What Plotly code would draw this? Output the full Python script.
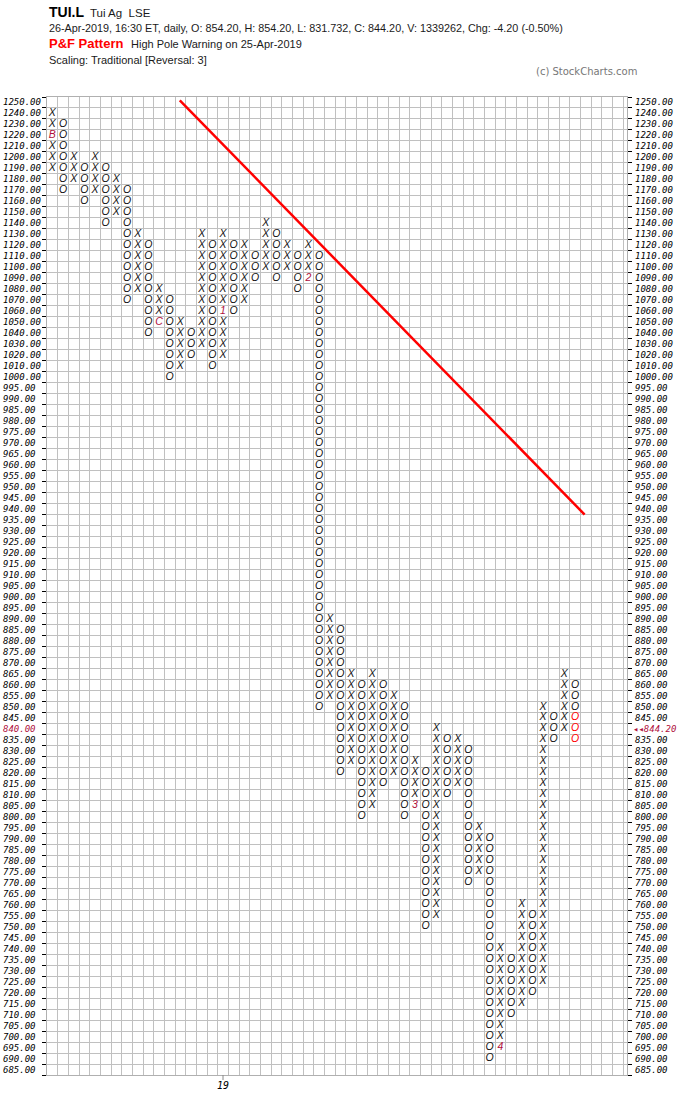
import plotly.graph_objects as go

# ---------------- data ----------------
price_levels = [1250, 1240, 1230, 1220, 1210, 1200, 1190, 1180, 1170, 1160, 1150, 1140, 1130,
                1120, 1110, 1100, 1090, 1080, 1070, 1060, 1050, 1040, 1030, 1020, 1010, 1000,
                995, 990, 985, 980, 975, 970, 965, 960, 955, 950, 945, 940, 935, 930, 925, 920,
                915, 910, 905, 900, 895, 890, 885, 880, 875, 870, 865, 860, 855, 850, 845, 840,
                835, 830, 825, 820, 815, 810, 805, 800, 795, 790, 785, 780, 775, 770, 765, 760,
                755, 750, 745, 740, 735, 730, 725, 720, 715, 710, 705, 700, 695, 690, 685]

col_types = ['X', 'O', 'X', 'O', 'X', 'O', 'X', 'O', 'X', 'O',
             'X', 'O', 'X', 'O', 'X', 'O', 'X', 'O', 'X', 'O',
             'X', 'O', 'X', 'O', 'X', 'O', 'X', 'O', 'X', 'O',
             'X', 'O', 'X', 'O', 'X', 'O', 'X', 'O', 'X', 'O',
             'X', 'O', 'X', 'O', 'X', 'O', 'X', 'O', 'X', 'O']
col_high = [1240, 1230, 1200, 1190, 1200, 1190, 1180, 1170, 1130, 1120,
            1080, 1070, 1050, 1040, 1130, 1120, 1130, 1120, 1120, 1110,
            1140, 1130, 1120, 1110, 1120, 1110, 890, 885, 865, 860,
            865, 860, 855, 850, 825, 820, 840, 835, 835, 830,
            795, 790, 740, 735, 760, 755, 850, 845, 865, 860]
col_low = [1190, 1170, 1180, 1160, 1170, 1140, 1150, 1070, 1080, 1040,
           1050, 1000, 1010, 1020, 1030, 1010, 1020, 1060, 1070, 1090,
           1100, 1090, 1100, 1080, 1090, 850, 855, 820, 825, 800,
           805, 815, 820, 800, 805, 750, 755, 810, 815, 770,
           775, 690, 695, 710, 715, 720, 725, 835, 840, 835]

marker_cols = [0, 10, 16, 24, 34, 42]
marker_prices = [1220, 1050, 1060, 1090, 805, 695]
marker_texts = ['B', 'C', '1', '2', '3', '4']

red_col = 49
red_prices = [845, 840, 835]

last_price_level = 840
last_price_label = '\u25c2\u25c2844.20'

year_label_col = 16
year_label = '19'

trend_x = [11.95, 49.9]
trend_y = [88.2, 50.5]

title_symbol = 'TUI.L'
title_name = 'Tui Ag  LSE'
title_line2 = '26-Apr-2019, 16:30 ET, daily, O: 854.20, H: 854.20, L: 831.732, C: 844.20, V: 1339262, Chg: -4.20 (-0.50%)'
pattern_label = 'P&F Pattern'
pattern_text = 'High Pole Warning on 25-Apr-2019'
scaling_text = 'Scaling: Traditional [Reversal: 3]'
copyright_text = '(c) StockCharts.com'

# ---------------- build ----------------
n_rows = len(price_levels)
row_of = {p: n_rows - 1 - i for i, p in enumerate(price_levels)}
mark_map = {(c, p): t for c, p, t in zip(marker_cols, marker_prices, marker_texts)}

groups = {'X': ([], []), 'O': ([], []), 'R': ([], []), 'M': ([], [], [])}
for c, (t, hi, lo) in enumerate(zip(col_types, col_high, col_low)):
    for p in price_levels:
        if lo <= p <= hi:
            if (c, p) in mark_map:
                groups['M'][0].append(c)
                groups['M'][1].append(row_of[p])
                groups['M'][2].append(mark_map[(c, p)])
            elif c == red_col and p in red_prices:
                groups['R'][0].append(c)
                groups['R'][1].append(row_of[p])
            else:
                groups[t][0].append(c)
                groups[t][1].append(row_of[p])

glyph_font = dict(family='Liberation Sans, Arial, sans-serif', size=10.5, style='italic')
fig = go.Figure()
fig.add_trace(go.Scatter(x=groups['X'][0], y=groups['X'][1], mode='text', text=['X'] * len(groups['X'][0]),
                         textfont=dict(glyph_font, color='#111111'), hoverinfo='skip', showlegend=False))
fig.add_trace(go.Scatter(x=groups['O'][0], y=groups['O'][1], mode='text', text=['O'] * len(groups['O'][0]),
                         textfont=dict(glyph_font, color='#111111'), hoverinfo='skip', showlegend=False))
fig.add_trace(go.Scatter(x=groups['R'][0], y=groups['R'][1], mode='text', text=['O'] * len(groups['R'][0]),
                         textfont=dict(glyph_font, color='#ff0000'), hoverinfo='skip', showlegend=False))
fig.add_trace(go.Scatter(x=groups['M'][0], y=groups['M'][1], mode='text', text=groups['M'][2],
                         textfont=dict(glyph_font, color='#b0103c'), hoverinfo='skip', showlegend=False))
fig.add_trace(go.Scatter(x=trend_x, y=trend_y, mode='lines', line=dict(color='#ff0000', width=2.5),
                         hoverinfo='skip', showlegend=False))

# axis labels (both sides)
label_font = dict(family='DejaVu Sans Mono, monospace', size=9, style='italic', color='#000000')
annotations = []
for p in price_levels:
    r = row_of[p]
    txt = f'{p:.2f}'
    lcol = '#b0103c' if p == last_price_level else '#000000'
    annotations.append(dict(x=0, xref='paper', y=r, yref='y', text=txt, showarrow=False,
                            xanchor='left', yanchor='middle', xshift=-46,
                            font=dict(label_font, color=lcol)))
    rtxt = last_price_label if p == last_price_level else txt
    annotations.append(dict(x=1, xref='paper', y=r, yref='y', text=rtxt, showarrow=False,
                            xanchor='left', yanchor='middle', xshift=4 if p == last_price_level else 6,
                            font=dict(label_font, color=lcol)))

annotations.append(dict(x=year_label_col, xref='x', y=0, yref='paper', text=year_label, showarrow=False,
                        xanchor='center', yanchor='top', yshift=-3,
                        font=dict(label_font, size=10)))

W, H = 700, 1108
ml, mr, mt, mb = 47, 73, 97, 33
pw, ph = W - ml - mr, H - mt - mb


def px(xp):
    return (xp - ml) / pw


def py(yp):
    return (H - mb - yp) / ph


hdr = dict(family='Liberation Sans, Arial, sans-serif', color='#1a1a1a')
annotations += [
    dict(x=px(47), y=py(12), xref='paper', yref='paper', xanchor='left', yanchor='middle', showarrow=False,
         text=f'<b>{title_symbol}</b>', font=dict(hdr, size=14, color='#000')),
    dict(x=px(88), y=py(13), xref='paper', yref='paper', xanchor='left', yanchor='middle', showarrow=False,
         text=title_name, font=dict(hdr, size=11.5)),
    dict(x=px(47), y=py(28), xref='paper', yref='paper', xanchor='left', yanchor='middle', showarrow=False,
         text=title_line2, font=dict(hdr, size=10.8)),
    dict(x=px(47), y=py(43), xref='paper', yref='paper', xanchor='left', yanchor='middle', showarrow=False,
         text=f'<b>{pattern_label}</b>', font=dict(hdr, size=13, color='#ff0000')),
    dict(x=px(129), y=py(44), xref='paper', yref='paper', xanchor='left', yanchor='middle', showarrow=False,
         text=pattern_text, font=dict(hdr, size=11)),
    dict(x=px(47), y=py(60), xref='paper', yref='paper', xanchor='left', yanchor='middle', showarrow=False,
         text=scaling_text, font=dict(hdr, size=11)),
    dict(x=px(534), y=py(71), xref='paper', yref='paper', xanchor='left', yanchor='middle', showarrow=False,
         text=copyright_text, font=dict(family='DejaVu Sans, sans-serif', size=10, color='#777777')),
]

col_w = 10.667
fig.update_layout(
    width=W, height=H, margin=dict(l=ml, r=mr, t=mt, b=mb),
    plot_bgcolor='white', paper_bgcolor='white',
    annotations=annotations,
    shapes=[dict(type='line', xref='x', yref='paper', x0=year_label_col, x1=year_label_col,
                 y0=0, y1=-5 / ph, line=dict(color='#888888', width=1))],
    xaxis=dict(range=[-0.5, -0.5 + pw / col_w], tickmode='linear', tick0=-0.5, dtick=1,
               showgrid=True, gridcolor='#c0c0c0', gridwidth=1, showticklabels=False, ticks='',
               zeroline=False, showline=True, linecolor='#b0b0b0', mirror=True, fixedrange=True),
    yaxis=dict(range=[-0.5, n_rows - 0.5], tickmode='linear', tick0=-0.5, dtick=1,
               showgrid=True, gridcolor='#c0c0c0', gridwidth=1, showticklabels=False,
               ticks='outside', ticklen=4, tickcolor='#000000', tickwidth=1,
               zeroline=False, showline=True, linecolor='#b0b0b0', mirror='allticks', fixedrange=True),
)

fig.write_html('out.html', config={'displayModeBar': False},
               post_script="document.body.style.margin='0px';")
